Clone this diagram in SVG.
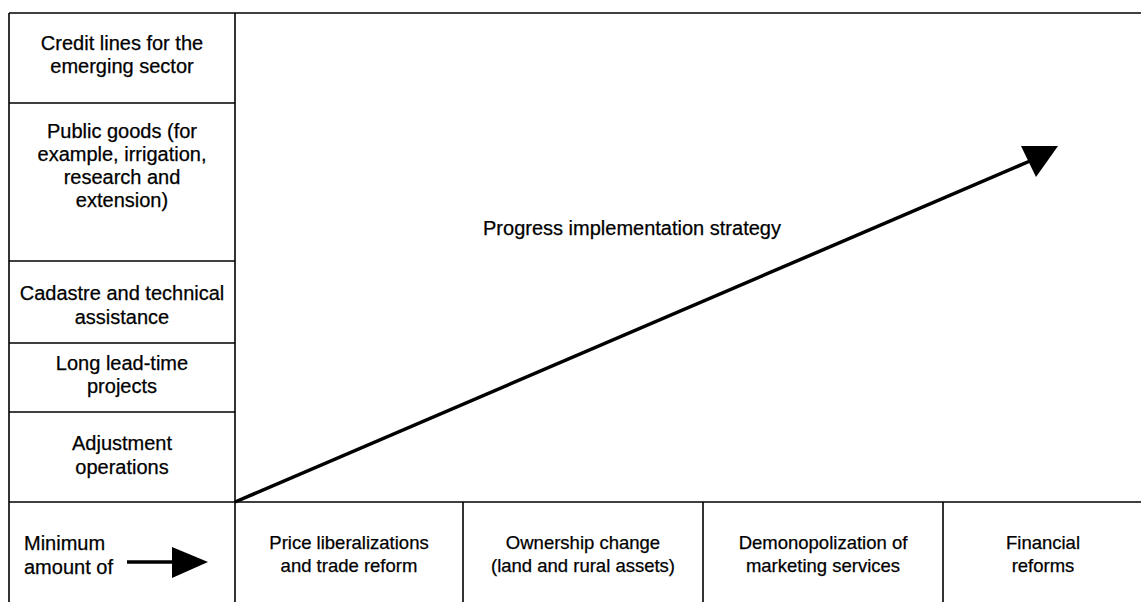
<svg xmlns="http://www.w3.org/2000/svg" width="1141" height="602" viewBox="0 0 1141 602">
  <style>
    .frame { stroke: #000; stroke-width: 1.6; fill: none; }
    .t { font-family: "Liberation Sans", Arial, Helvetica, sans-serif; font-size: 20px; fill: #000; stroke: #000; stroke-width: 0.25; text-anchor: middle; }
    .b { font-size: 18.5px; }
    .l { text-anchor: start; }
    .arrow { stroke: #000; stroke-width: 3.5; fill: none; }
    .head { fill: #000; stroke: none; }
  </style>
  <rect width="1141" height="602" fill="#fff"/>
  <g id="frame" class="frame">
    <line x1="9" y1="13" x2="1141" y2="13"/>
    <line x1="9" y1="13" x2="9" y2="602"/>
    <line x1="235" y1="13" x2="235" y2="602"/>
    <line x1="9" y1="103" x2="235" y2="103"/>
    <line x1="9" y1="261" x2="235" y2="261"/>
    <line x1="9" y1="343" x2="235" y2="343"/>
    <line x1="9" y1="412" x2="235" y2="412"/>
    <line x1="9" y1="502" x2="1141" y2="502"/>
    <line x1="463" y1="502" x2="463" y2="602"/>
    <line x1="703" y1="502" x2="703" y2="602"/>
    <line x1="943" y1="502" x2="943" y2="602"/>
  </g>
  <g id="credit-lines">
    <text class="t" x="122" y="50">Credit lines for the</text>
    <text class="t" x="122" y="73">emerging sector</text>
  </g>
  <g id="public-goods">
    <text class="t" x="122" y="138">Public goods (for</text>
    <text class="t" x="122" y="161">example, irrigation,</text>
    <text class="t" x="122" y="184">research and</text>
    <text class="t" x="122" y="207">extension)</text>
  </g>
  <g id="cadastre">
    <text class="t" x="122" y="300">Cadastre and technical</text>
    <text class="t" x="122" y="324">assistance</text>
  </g>
  <g id="long-lead">
    <text class="t" x="122" y="370">Long lead-time</text>
    <text class="t" x="122" y="393">projects</text>
  </g>
  <g id="adjustment">
    <text class="t" x="122" y="450">Adjustment</text>
    <text class="t" x="122" y="474">operations</text>
  </g>
  <g id="minimum">
    <text class="t l" x="24" y="550">Minimum</text>
    <text class="t l" x="24" y="574">amount of</text>
  </g>
  <g id="price">
    <text class="t b" x="349" y="549">Price liberalizations</text>
    <text class="t b" x="349" y="572">and trade reform</text>
  </g>
  <g id="ownership">
    <text class="t b" x="583" y="549">Ownership change</text>
    <text class="t b" x="583" y="572">(land and rural assets)</text>
  </g>
  <g id="demonopolization">
    <text class="t b" x="823" y="549">Demonopolization of</text>
    <text class="t b" x="823" y="572">marketing services</text>
  </g>
  <g id="financial">
    <text class="t b" x="1043" y="549">Financial</text>
    <text class="t b" x="1043" y="572">reforms</text>
  </g>
  <g id="progress-label">
    <text class="t" x="632" y="235">Progress implementation strategy</text>
  </g>
  <g id="connectors">
    <line class="arrow" x1="235" y1="502" x2="1030" y2="161"/>
    <polygon class="head" points="1021,146 1058,146 1036,177"/>
    <line class="arrow" x1="127" y1="562" x2="175" y2="562"/>
    <polygon class="head" points="172,547 208,562 172,578"/>
  </g>
</svg>
